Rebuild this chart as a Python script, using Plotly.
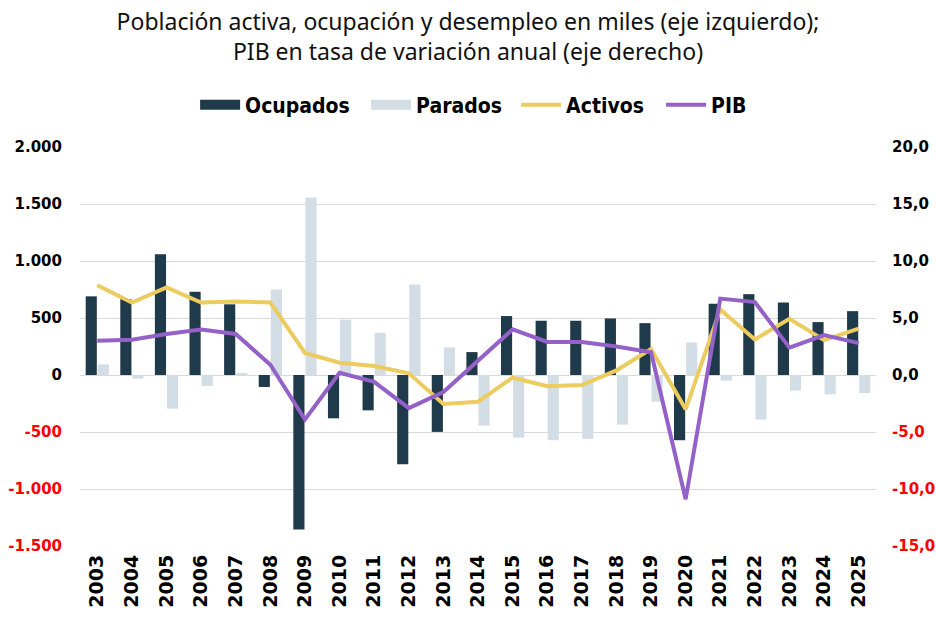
import plotly.graph_objects as go

years = [str(y) for y in range(2003, 2026)]
ocupados = [690, 665, 1060, 730, 620, -105, -1355, -380, -310, -782, -499, 201,
            517, 476, 476, 496, 455, -572, 625, 709, 636, 464, 560]
parados = [93, -32, -295, -96, 12, 750, 1558, 485, 370, 794, 242, -444,
           -549, -572, -560, -435, -234, 286, -50, -391, -137, -169, -158]
activos = [788, 636, 768, 636, 645, 636, 193, 108, 79, 15, -254, -234,
           -23, -99, -88, 40, 228, -301, 575, 312, 493, 306, 406]
pib = [3.0, 3.1, 3.6, 4.0, 3.6, 0.9, -3.9, 0.2, -0.6, -2.9, -1.5, 1.3,
       4.0, 2.9, 2.9, 2.5, 2.0, -10.9, 6.7, 6.4, 2.4, 3.5, 2.8]

left_ticks = [-1500, -1000, -500, 0, 500, 1000, 1500, 2000]
right_ticks = [-15, -10, -5, 0, 5, 10, 15, 20]

RED = "#ff0000"
C_OCU = "#1f3a4a"
C_PAR = "#d3dde6"
C_ACT = "#eccb5f"
C_PIB = "#9461c9"


def fmt_left(v):
    s = f"{abs(v):,}".replace(",", ".")
    if v < 0:
        return f"<span style='color:{RED}'>-{s}</span>"
    return s


def fmt_right(v):
    s = f"{abs(v):.1f}".replace(".", ",")
    if v < 0:
        return f"<span style='color:{RED}'>-{s}</span>"
    return s


fig = go.Figure()
fig.add_trace(go.Bar(x=years, y=ocupados, name="Ocupados", marker_color=C_OCU,
                     marker_line_width=0, showlegend=False))
fig.add_trace(go.Bar(x=years, y=parados, name="Parados", marker_color=C_PAR,
                     marker_line_width=0, showlegend=False))
fig.add_trace(go.Scatter(x=years, y=activos, name="Activos", mode="lines",
                         line=dict(color=C_ACT, width=4), legendrank=3,
                         legendwidth=90))
fig.add_trace(go.Scatter(x=years, y=pib, name="PIB", mode="lines", yaxis="y2",
                         line=dict(color=C_PIB, width=4), legendrank=4,
                         legendwidth=40))
# legend-only swatches for the bar series (wide rectangles as in the reference)
fig.add_trace(go.Scatter(x=[None], y=[None], name="Ocupados", mode="lines",
                         line=dict(color=C_OCU, width=11), legendrank=1,
                         legendwidth=116))
fig.add_trace(go.Scatter(x=[None], y=[None], name="Parados", mode="lines",
                         line=dict(color=C_PAR, width=11), legendrank=2,
                         legendwidth=95))

fig.update_layout(
    width=936, height=618,
    margin=dict(l=80, r=60, t=147, b=72),
    paper_bgcolor="white", plot_bgcolor="white",
    barmode="group", bargap=0.3, bargroupgap=0.08,
    title=dict(
        text="Población activa, ocupación y desempleo en miles (eje izquierdo);<br>PIB en tasa de variación anual (eje derecho)",
        x=0.5, xanchor="center", yref="container", y=0.9515, yanchor="middle",
        font=dict(family="Noto Sans, Open Sans, sans-serif", size=23, color="#111111"),
    ),
    legend=dict(
        orientation="h", x=0.497, xanchor="center", y=1.105, yanchor="middle",
        font=dict(family="Liberation Sans Narrow, DejaVu Sans Condensed, sans-serif",
                  size=21, color="#000000", weight="bold"),
        itemwidth=40, traceorder="normal",
    ),
    xaxis=dict(
        type="category", tickangle=-90, showgrid=False, zeroline=False,
        showline=False, ticks="", automargin=False, ticklabelstandoff=4,
        tickfont=dict(family="DejaVu Sans", size=19, color="#000000", weight="bold"),
    ),
    yaxis=dict(
        range=[-1500, 2000], tickvals=left_ticks,
        ticktext=[fmt_left(v) for v in left_ticks],
        showgrid=True, gridcolor="#d9d9d9", gridwidth=1,
        zeroline=True, zerolinecolor="#d9d9d9", zerolinewidth=1,
        ticks="", ticklabelstandoff=17, automargin=False,
        tickfont=dict(family="DejaVu Sans", size=15, color="#000000", weight="bold"),
    ),
    yaxis2=dict(
        range=[-15, 20], tickvals=right_ticks,
        ticktext=[fmt_right(v) for v in right_ticks],
        overlaying="y", side="right", showgrid=False, zeroline=False,
        ticks="", ticklabelstandoff=15, automargin=False,
        tickfont=dict(family="DejaVu Sans", size=15, color="#000000", weight="bold"),
    ),
)

fig.write_html("out.html", config={"displayModeBar": False},
               post_script="document.body.style.margin='0px';document.body.style.overflow='hidden';")
